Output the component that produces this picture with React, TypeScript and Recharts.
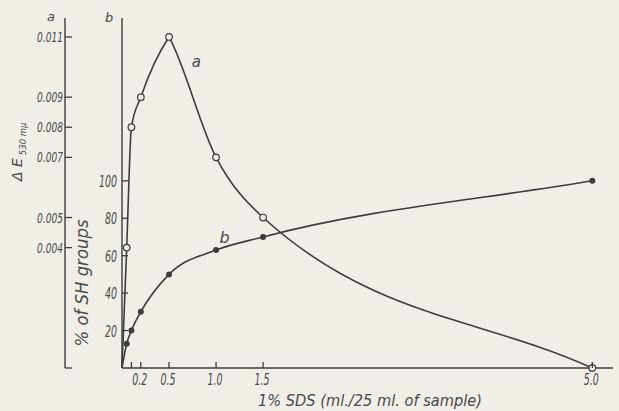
import React from "react";
import { LineChart, Line, XAxis, YAxis, ReferenceDot, Customized } from "recharts";

// curve a: extinction change at 530 mμ (open circles, left outer axis)
const sdsA = [0, 0.05, 0.1, 0.2, 0.5, 1.0, 1.5, 5.0];
const deltaE = [0, 0.004, 0.008, 0.009, 0.011, 0.007, 0.005, 0];
// curve b: % of SH groups (filled dots, inner axis)
const sdsB = [0, 0.05, 0.1, 0.2, 0.5, 1.0, 1.5, 5.0];
const shGroups = [0, 13, 20, 30, 50, 63, 70, 100];

const xTicks = [0.1, 0.2, 0.5, 1.0, 1.5, 5.0];
const xTickLabels = ["", "0.2", "0.5", "1.0", "1.5", "5.0"];
const aTicks = [0, 0.004, 0.005, 0.007, 0.008, 0.009, 0.011];
const aTickLabels = ["", "0.004", "0.005", "0.007", "0.008", "0.009", "0.011"];
const bTicks = [20, 40, 60, 80, 100];
const bTickLabels = ["20", "40", "60", "80", "100"];

const dataA = sdsA.map((x, i) => ({ x, y: deltaE[i] }));
const dataB = sdsB.map((x, i) => ({ x, y: shGroups[i] }));

const PAPER = "#f0eee7";
const INK = "#3d3d3d";
const TEXT = "#4a4a4a";
const FONT = "'DejaVu Sans', sans-serif";

// axis ids: recharts stacks left axes by id, first one sits next to the plot
const AX_SH = "axisB";
const AX_E = "axisE";

// hand-drawn look: monotone cubic, but a maximum/minimum is drawn as a point (no flat top)
function sketchCurve(context: any) {
  let xs: number[] = [];
  let ys: number[] = [];
  return {
    areaStart() {},
    areaEnd() {},
    lineStart() { xs = []; ys = []; },
    point(x: number, y: number) { xs.push(+x); ys.push(+y); },
    lineEnd() {
      const n = xs.length;
      if (!n) return;
      context.moveTo(xs[0], ys[0]);
      if (n === 1) return;
      const s: number[] = [];
      for (let i = 0; i < n - 1; i++) s.push((ys[i + 1] - ys[i]) / (xs[i + 1] - xs[i]));
      const tin: number[] = [s[0]];
      const tout: number[] = [s[0]];
      for (let i = 1; i < n - 1; i++) {
        const a = s[i - 1], b = s[i];
        if (a * b < 0) {
          tin.push(0.7 * a);
          tout.push(0.7 * b);
        } else {
          const h0 = xs[i] - xs[i - 1], h1 = xs[i + 1] - xs[i];
          const p = (a * h1 + b * h0) / (h0 + h1);
          const t = (Math.sign(a) + Math.sign(b)) * Math.min(Math.abs(a), Math.abs(b), 0.5 * Math.abs(p)) || 0;
          tin.push(t);
          tout.push(t);
        }
      }
      tin.push(s[n - 2]);
      tout.push(s[n - 2]);
      for (let i = 0; i < n - 1; i++) {
        const h = (xs[i + 1] - xs[i]) / 3;
        context.bezierCurveTo(
          xs[i] + h, ys[i] + h * tout[i],
          xs[i + 1] - h, ys[i + 1] - h * tin[i + 1],
          xs[i + 1], ys[i + 1]
        );
      }
    },
  };
}

function Letter({ x, y, size, len, anchor = "middle", rotate = 0, children }: any) {
  return (
    <text
      transform={`translate(${x},${y}) rotate(${rotate})`}
      fontSize={size}
      fontStyle="italic"
      fontFamily={FONT}
      fill={TEXT}
      textAnchor={anchor}
      textLength={len}
      lengthAdjust={len ? "spacingAndGlyphs" : undefined}
    >
      {children}
    </text>
  );
}

const ATick = ({ x, y, payload }: any) => {
  const label = aTickLabels[aTicks.indexOf(payload.value)];
  return (
    <g>
      <line x1={x} x2={x + 7} y1={y} y2={y} stroke={INK} strokeWidth={1.3} />
      {label && <Letter x={x - 2} y={y + 5} size={13.5} len={26} anchor="end">{label}</Letter>}
    </g>
  );
};

const BTick = ({ x, y, payload }: any) => {
  const label = bTickLabels[bTicks.indexOf(payload.value)];
  return (
    <g>
      <line x1={x} x2={x + 6} y1={y} y2={y} stroke={INK} strokeWidth={1.3} />
      <Letter x={x - 5} y={y + 6} size={16} len={label.length * 6} anchor="end">{label}</Letter>
    </g>
  );
};

const XTick = ({ x, y, payload }: any) => {
  const label = xTickLabels[xTicks.indexOf(payload.value)];
  return (
    <g>
      <line x1={x} x2={x} y1={y} y2={y - 6} stroke={INK} strokeWidth={1.3} />
      {label && <Letter x={x - 1} y={y + 17} size={16} len={15}>{label}</Letter>}
    </g>
  );
};

const OpenDot = ({ cx, cy, index }: any) =>
  index === 0 ? <g key={index} /> : (
    <circle key={index} cx={cx} cy={cy} r={3.3} fill={PAPER} stroke={INK} strokeWidth={1.2} />
  );

const FullDot = ({ cx, cy, index }: any) =>
  index === 0 ? <g key={index} /> : <circle key={index} cx={cx} cy={cy} r={3} fill={INK} />;

const Tag = (text: string, size: number) => (props: any) => {
  const { x, y } = props.viewBox;
  return <Letter x={x} y={y} size={size}>{text}</Letter>;
};

const Annotations = () => (
  <g>
    <Letter x={51} y={21} size={13}>a</Letter>
    <Letter x={109} y={22} size={13}>b</Letter>
    <text transform="translate(22,181) rotate(-90)" fontFamily={FONT} fontStyle="italic" fill={TEXT} fontSize={14}>
      Δ E
      <tspan fontSize={8.5} dx={3} dy={4}>530 mμ</tspan>
    </text>
    <Letter x={88} y={283} size={17} len={127} rotate={-90}>% of SH groups</Letter>
    <Letter x={370} y={406} size={16} len={224}>1% SDS (ml./25 ml. of sample)</Letter>
  </g>
);

export default function App() {
  return (
    <div style={{ position: "absolute", left: 0, top: 0, width: 619, height: 411, background: PAPER }}>
      <LineChart width={619} height={411} margin={{ top: 18, right: 6, bottom: 0, left: 0 }}>
        <XAxis
          type="number" dataKey="x" domain={[0, 5.22]} ticks={xTicks} interval={0}
          height={43} tickSize={0} tickMargin={0} tickLine={false}
          axisLine={{ stroke: INK, strokeWidth: 1.4 }} tick={<XTick />}
        />
        <YAxis
          yAxisId={AX_SH} type="number" domain={[0, 187]} ticks={bTicks} interval={0}
          width={57} tickSize={0} tickMargin={0} tickLine={false}
          axisLine={{ stroke: INK, strokeWidth: 1.4 }} tick={<BTick />}
        />
        <YAxis
          yAxisId={AX_E} type="number" domain={[0, 0.01163]} ticks={aTicks} interval={0}
          width={65} tickSize={0} tickMargin={0} tickLine={false}
          axisLine={{ stroke: INK, strokeWidth: 1.4 }} tick={<ATick />}
        />
        <Line
          yAxisId={AX_E} data={dataA} dataKey="y" type={sketchCurve as any} stroke={INK} strokeWidth={1.6}
          dot={<OpenDot />} activeDot={false} isAnimationActive={false}
        />
        <Line
          yAxisId={AX_SH} data={dataB} dataKey="y" type={sketchCurve as any} stroke={INK} strokeWidth={1.6}
          dot={<FullDot />} activeDot={false} isAnimationActive={false}
        />
        <ReferenceDot yAxisId={AX_E} x={0.79} y={0.01} r={0} fill="none" stroke="none" label={Tag("a", 15)} />
        <ReferenceDot yAxisId={AX_SH} x={1.09} y={67} r={0} fill="none" stroke="none" label={Tag("b", 16)} />
        <Customized component={<Annotations />} />
      </LineChart>
    </div>
  );
}
